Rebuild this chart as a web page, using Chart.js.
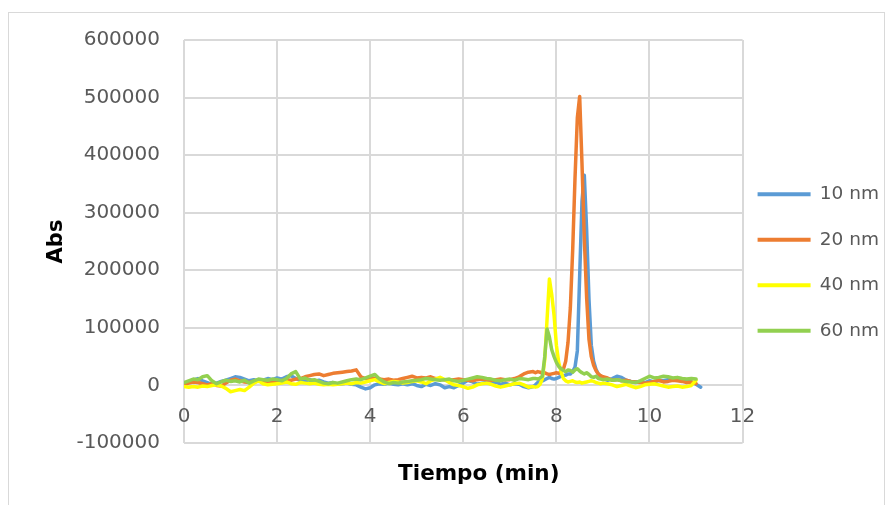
<!DOCTYPE html>
<html>
<head>
<meta charset="utf-8">
<script src="https://cdn.jsdelivr.net/npm/chart.js@4.4.1/dist/chart.umd.min.js"></script>
<style>
  html, body { margin: 0; padding: 0; background: #ffffff; }
  #wrap { width: 896px; height: 505px; position: relative; }
</style>
</head>
<body>
<div id="wrap"><canvas id="c" width="896" height="505"></canvas></div>
<script>
// Time axis (min)
const time = [
  0.0,0.1,0.2,0.3,0.4,0.5,0.6,0.7,0.8,0.9,
  1.0,1.1,1.2,1.3,1.4,1.5,1.6,1.7,1.8,1.9,
  2.0,2.1,2.2,2.3,2.4,2.5,2.6,2.7,2.8,2.9,
  3.0,3.1,3.2,3.3,3.4,3.5,3.6,3.7,3.8,3.9,
  4.0,4.1,4.2,4.3,4.4,4.5,4.6,4.7,4.8,4.9,
  5.0,5.1,5.2,5.3,5.4,5.5,5.6,5.7,5.8,5.9,
  6.0,6.1,6.2,6.3,6.4,6.5,6.6,6.7,6.8,6.9,
  7.0,7.1,7.2,7.3,7.4,7.5,
  7.55,7.6,7.65,7.7,7.75,7.8,7.85,7.9,7.95,8.0,
  8.05,8.1,8.15,8.2,8.25,8.3,8.35,8.4,8.45,8.5,
  8.55,8.6,8.65,8.7,8.75,8.8,8.85,8.9,8.95,9.0,
  9.1,9.2,9.3,9.4,9.5,9.6,9.7,9.8,9.9,
  10.0,10.1,10.2,10.3,10.4,10.5,10.6,10.7,10.8,10.9,
  11.0,11.1
];

const abs10nm = [
  3000,6000,9000,12000,8000,5000,2000,4000,7000,9000,
  12000,15000,14000,11000,8000,10000,7000,9000,12000,10000,
  13000,11000,15000,17000,12000,9000,8000,10000,7000,9000,
  6000,4000,5000,2000,3000,4000,2000,1000,-3000,-6000,
  -4000,1000,3000,2000,4000,2000,1000,3000,1000,3000,
  0,-2000,2000,0,3000,1000,-4000,-2000,-4000,0,
  4000,9000,6000,2000,4000,5000,3000,6000,2000,4000,
  1000,3000,2000,-2000,-4000,-2000,
  1000,5000,9000,8000,10000,12000,14000,12000,11000,12000,
  14000,16000,17000,18000,20000,20000,24000,32000,60000,190000,
  320000,365000,270000,150000,70000,42000,28000,20000,15000,12000,
  9000,12000,16000,14000,9000,7000,6000,7000,5000,
  8000,6000,9000,8000,10000,11000,12000,10000,9000,6000,
  2000,-3000
];

const abs20nm = [
  2000,4000,6000,5000,3000,1000,3000,0,-1000,4000,
  9000,11000,8000,6000,5000,7000,9000,8000,6000,7000,
  5000,8000,10000,9000,11000,12000,15000,17000,19000,20000,
  17000,19000,21000,22000,23000,24000,25000,27000,15000,12000,
  13000,12000,11000,10000,11000,9000,10000,12000,14000,16000,
  13000,14000,13000,15000,12000,11000,10000,9000,10000,11000,
  10000,9000,8000,10000,11000,10000,9000,10000,11000,10000,
  10000,12000,15000,20000,23000,24000,
  22000,24000,23000,21000,22000,20000,19000,20000,21000,22000,
  21000,24000,28000,42000,75000,135000,235000,360000,465000,502000,
  385000,255000,152000,80000,50000,35000,26000,20000,17000,15000,
  13000,9000,10000,8000,9000,7000,6000,5000,4000,
  5000,7000,9000,6000,7000,9000,8000,7000,5000,6000,
  3000,null
];

const abs40nm = [
  -2000,-3000,-2000,-3000,-1000,-2000,0,1000,-1000,-5000,
  -11000,-9000,-7000,-9000,-3000,4000,8000,3000,1000,2000,
  3000,4000,6000,3000,2000,5000,4000,3000,4000,2000,
  1000,2000,1000,2000,3000,4000,3000,5000,4000,6000,
  8000,10000,6000,3000,5000,7000,6000,4000,5000,7000,
  8000,6000,3000,8000,11000,14000,10000,5000,1000,0,
  -2000,-5000,-3000,1000,3000,4000,2000,-1000,-3000,-1000,
  1000,3000,4000,1000,-3000,-2000,
  -3000,-2000,2000,12000,45000,115000,185000,158000,122000,70000,
  40000,24000,12000,8000,6000,7000,8000,6000,5000,6000,
  4000,5000,6000,7000,8000,7000,5000,4000,3000,4000,
  3000,1000,-2000,0,2000,-1000,-4000,-2000,1000,
  2000,3000,1000,-1000,-3000,-2000,-1000,-3000,-2000,0,
  9000,null
];

const abs60nm = [
  5000,8000,11000,10000,15000,17000,8000,3000,6000,9000,
  7000,8000,6000,9000,4000,8000,11000,10000,9000,11000,
  10000,8000,12000,20000,24000,11000,13000,9000,10000,7000,
  4000,3000,5000,4000,6000,8000,10000,11000,10000,13000,
  16000,19000,11000,6000,3000,5000,4000,6000,7000,8000,
  9000,10000,12000,11000,10000,9000,10000,11000,8000,7000,
  9000,11000,13000,15000,14000,12000,11000,9000,8000,10000,
  11000,9000,12000,11000,10000,12000,
  12000,11000,13000,16000,50000,98000,84000,62000,50000,40000,
  33000,29000,26000,24000,27000,26000,23000,27000,29000,25000,
  22000,20000,22000,19000,15000,14000,16000,12000,11000,10000,
  11000,9000,10000,8000,7000,6000,5000,8000,12000,
  16000,13000,14000,16000,15000,13000,14000,12000,11000,12000,
  11000,null
];

const seriesNames = ['10 nm', '20 nm', '40 nm', '60 nm'];
const seriesColors = ['#5B9BD5', '#ED7D31', '#FFFF00', '#92D050'];
const seriesValues = [abs10nm, abs20nm, abs40nm, abs60nm];

const xTicks = [0, 2, 4, 6, 8, 10, 12];
const yTicks = [-100000, 0, 100000, 200000, 300000, 400000, 500000, 600000];

const GRID = '#D9D9D9';
const TICK = '#595959';
const FONT = 'DejaVu Sans';

const datasets = seriesValues.map((vals, i) => ({
  label: seriesNames[i],
  data: time.map((t, k) => ({ x: t, y: vals[k] })),
  borderColor: seriesColors[i],
  backgroundColor: seriesColors[i],
  borderWidth: 3.5,
  borderJoinStyle: 'round',
  borderCapStyle: 'round',
  pointRadius: 0,
  tension: 0,
  spanGaps: false,
  order: seriesValues.length - i,
  xAxisID: 'x',
  yAxisID: 'y'
}));

const frame = {
  id: 'frame',
  beforeDraw(chart) {
    const ctx = chart.ctx;
    ctx.save();
    ctx.fillStyle = '#ffffff';
    ctx.fillRect(0, 0, chart.width, chart.height);
    ctx.strokeStyle = '#D9D9D9';
    ctx.lineWidth = 1;
    ctx.strokeRect(8.5, 12.5, 876, 520);
    ctx.restore();
  }
};

// fine placement: legend nearer the plot, x title slightly right of plot centre
const placement = {
  id: 'placement',
  afterLayout(chart) {
    if (chart.legend) {
      chart.legend.left -= 12;
      chart.legend.right -= 12;
    }
    const xs = chart.scales.x;
    if (xs) { xs.right += 31; }
  }
};

new Chart(document.getElementById('c'), {
  type: 'line',
  data: { datasets },
  plugins: [frame, placement],
  options: {
    responsive: false,
    animation: false,
    layout: { padding: { left: 0, top: 40, right: -5, bottom: 20 } },
    plugins: {
      tooltip: { enabled: false },
      legend: {
        position: 'right',
        labels: {
          boxWidth: 53,
          boxHeight: 4,
          padding: 27,
          color: TICK,
          font: { family: FONT, size: 18.5 },
          sort: (a, b) => a.datasetIndex - b.datasetIndex,
          generateLabels: (chart) =>
            Chart.defaults.plugins.legend.labels.generateLabels(chart).map(l => ({ ...l, lineWidth: 0 }))
        }
      }
    },
    scales: {
      x: {
        type: 'linear',
        position: 'bottom',
        min: 0, max: 12,
        afterBuildTicks: (s) => { s.ticks = xTicks.map(v => ({ value: v })); },
        ticks: { display: false },
        grid: { color: GRID, lineWidth: 2, drawTicks: false },
        border: { display: false },
        title: {
          display: true, text: 'Tiempo (min)', color: '#000000',
          font: { family: FONT, size: 21.5, weight: 'bold', lineHeight: 1 },
          padding: { top: 0, bottom: 0 }
        },
        afterFit: (s) => { s.height = 42; }
      },
      x2: {
        type: 'linear',
        axis: 'x',
        position: { y: 0 },
        min: 0, max: 12,
        afterBuildTicks: (s) => { s.ticks = xTicks.map(v => ({ value: v })); },
        ticks: { color: TICK, font: { family: FONT, size: 20 }, padding: 19, maxRotation: 0 },
        grid: { display: false, drawTicks: false },
        border: { display: false }
      },
      y: {
        type: 'linear',
        position: 'left',
        min: -100000, max: 600000,
        afterBuildTicks: (s) => { s.ticks = yTicks.map(v => ({ value: v })); },
        ticks: { color: TICK, font: { family: FONT, size: 20 }, padding: 24, callback: (v) => String(v) },
        grid: { color: GRID, lineWidth: 2, drawTicks: false },
        border: { display: false },
        title: {
          display: true, text: 'Abs', color: '#000000',
          font: { family: FONT, size: 21, weight: 'bold', lineHeight: 1 },
          padding: { top: 46, bottom: 0 }
        },
        afterFit: (s) => { s.width = 184; }
      }
    }
  }
});
</script>
</body>
</html>
